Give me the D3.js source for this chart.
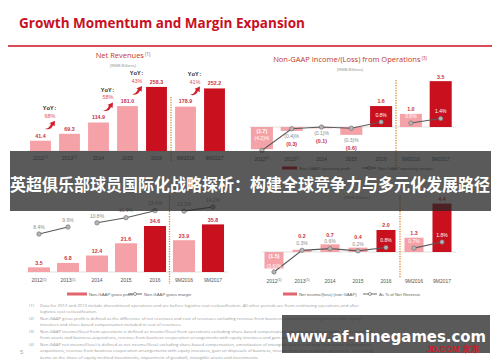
<!DOCTYPE html>
<html>
<head>
<meta charset="utf-8">
<title>Growth Momentum and Margin Expansion</title>
<script src="https://cdn.jsdelivr.net/npm/d3@7"></script>
<style>
  body { margin: 0; background: #fff; }
  svg { display: block; font-family: "Liberation Sans", Arial, sans-serif; }
  .ttl { font-family: "Open Sans", sans-serif; }
</style>
</head>
<body>
<div id="chart"></div>
<script>
// periods shared by the four panels
var periods = ["2012", "2013", "2014", "2015", "2016", "9M2016", "9M2017"];
var noted = ["2012", "2013"];          // footnote (1) on the axis
var highlight = ["2016", "9M2017"];    // dark red bars

var netRevenues = [41.4, 69.3, 114.9, 181.0, 258.3, 178.9, 252.2];
var yoyFrom = ["2012", "2014", "2015", "9M2016"];
var yoyPct = ["68%", "58%", "43%", "41%"];

var opIncome = [-1.7, -0.3, -0.1, -0.6, 1.6, 1.0, 3.5];
var opMargin = [-4.2, -0.4, -0.1, -0.3, 0.8, 0.6, 1.4];

var grossProfit = [3.5, 6.8, 12.4, 21.6, 34.6, 23.9, 35.8];
var grossMargin = [8.4, 9.9, 10.8, 11.9, 13.4, 13.3, 14.2];

var netIncome = [-1.5, 0.2, 0.7, 0.4, 2.0, 1.3, 4.4];
var netMargin = [-3.6, 0.3, 0.6, 0.2, 0.8, 0.7, 1.8];

var footnotes = [
  ["(1)", "Data for 2012 and 2013 include discontinued operations and are before logistics cost reclassification. All other periods are from continuing operations and after"],
  ["", "logistics cost reclassification."],
  ["(2)", "Non-GAAP gross profit is defined as the difference of net revenues and cost of revenues excluding revenue from business cooperation arrangements with equity"],
  ["", "investees and share-based compensation included in cost of revenues."],
  ["(3)", "Non-GAAP income/(loss) from operations is defined as income/(loss) from operations excluding share-based compensation, amortization of intangible assets resulting"],
  ["", "from assets and business acquisitions, revenue from business cooperation arrangements with equity investees and gain on disposals of business."],
  ["(4)", "Non-GAAP net income/(loss) is defined as net income/(loss) excluding share-based compensation, amortization of intangible assets resulting from assets and business"],
  ["", "acquisitions, revenue from business cooperation arrangements with equity investees, gain on disposals of business, income from non-compete agreement, reconciling"],
  ["", "items on the share of equity method investments, impairment of goodwill, intangible assets and investments."]
];

var W = 500, H = 362;
var pink = "#f4a2a8", dark = "#c8101f", valRed = "#c93340", txtGray = "#8c8c8c";

var svg = d3.select("#chart").append("svg").attr("width", W).attr("height", H);

function fmt(v) { var s = d3.format(".1f")(Math.abs(v)); return v < 0 ? "(" + s + ")" : s; }
function fmtPct(v) { var s = d3.format(".1f")(Math.abs(v)); return v < 0 ? "(" + s + ")%" : s + "%"; }

// slide header
svg.append("text").attr("class", "ttl").attr("x", 19).attr("y", 27.5)
  .attr("font-size", 13.5).attr("font-weight", "bold").attr("fill", dark)
  .text("Growth Momentum and Margin Expansion");
svg.append("line").attr("x1", 8).attr("x2", 492).attr("y1", 46).attr("y2", 46)
  .attr("stroke", dark).attr("stroke-width", 1.4);

function panel(o) {
  var g = svg.append("g");
  var x = d3.scaleBand().domain(periods).range(o.xr).paddingInner(o.pad).paddingOuter(o.pad / 2);
  var y = d3.scaleLinear().domain(o.yd).range(o.yr);
  var bw = x.bandwidth();
  var rows = periods.map(function (p, i) { return { p: p, v: o.values[i], m: o.margins ? o.margins[i] : null }; });

  // title (the bottom panels' titles sit behind the banner)
  if (o.title) {
    var t = g.append("text").attr("class", "ttl").attr("x", o.tx).attr("y", o.ty)
      .attr("text-anchor", "middle").attr("font-size", 7.5).attr("fill", "#c0392b").text(o.title);
    t.append("tspan").attr("dy", -2.5).attr("font-size", 4.5).text(" " + o.note);
  }
  if (o.sub) {
    g.append("text").attr("x", o.tx).attr("y", o.ty + 9).attr("text-anchor", "middle")
      .attr("font-size", 4.2).attr("fill", "#999").text("(RMB Billions)");
  }

  // zero line
  g.append("line").attr("x1", o.xr[0] + 2).attr("x2", o.xr[1]).attr("y1", y(0)).attr("y2", y(0))
    .attr("stroke", "#cfcfcf").attr("stroke-width", 0.6);

  // bars
  g.selectAll("rect.bar").data(rows).enter().append("rect").attr("class", "bar")
    .attr("x", function (d) { return x(d.p); }).attr("width", bw)
    .attr("y", function (d) { return y(Math.max(0, d.v)); })
    .attr("height", function (d) { return Math.abs(y(d.v) - y(0)); })
    .attr("fill", function (d) { return highlight.indexOf(d.p) >= 0 ? dark : pink; });

  // margin line and labels
  var ym = null;
  if (o.margins) {
    ym = d3.scaleLinear().domain(o.md).range(o.mr);
    rows.forEach(function (d) {
      var top = y(Math.max(0, d.v)), bot = y(Math.min(0, d.v));
      if (d.v < 0 && bot - top > 12) {
        d.vy = y(0) + 4.5; d.py = d.vy + o.inGap; d.vIn = true; d.pIn = true;
      } else if (d.v < 0) {
        d.py = bot + 5; d.vy = d.py + 8; d.vIn = false; d.pIn = false;
      } else {
        d.py = ym(d.m) - 7;
        d.vy = o.stack ? Math.min(top - 4.5, d.py - 7) : top - 4.5;
        d.pIn = d.py > top + 1; d.vIn = false;
      }
    });
    var line = d3.line().x(function (d) { return x(d.p) + bw / 2; }).y(function (d) { return ym(d.m); });
    o.segments.forEach(function (seg) {
      g.append("path").datum(rows.filter(function (d) { return seg.indexOf(d.p) >= 0; }))
        .attr("d", line).attr("fill", "none").attr("stroke", "#5a5a5a").attr("stroke-width", 1.1);
    });
    g.selectAll("circle.mk").data(rows).enter().append("circle").attr("class", "mk")
      .attr("cx", function (d) { return x(d.p) + bw / 2; }).attr("cy", function (d) { return ym(d.m); })
      .attr("r", 2.2).attr("fill", "#b5b5b5").attr("stroke", "#6a6a6a").attr("stroke-width", 0.6);
    g.selectAll("text.pct").data(rows).enter().append("text").attr("class", "pct")
      .attr("x", function (d) { return x(d.p) + bw / 2; }).attr("y", function (d) { return d.py; })
      .attr("dy", "0.35em").attr("text-anchor", "middle").attr("font-size", 5)
      .attr("fill", function (d) { return d.pIn ? "#fff" : txtGray; })
      .text(function (d) { return fmtPct(d.m); });
  } else {
    rows.forEach(function (d) { d.vy = y(d.v) - 5; d.vIn = false; });
  }

  g.selectAll("text.val").data(rows).enter().append("text").attr("class", "val")
    .attr("x", function (d) { return x(d.p) + bw / 2; }).attr("y", function (d) { return d.vy; })
    .attr("dy", "0.35em").attr("text-anchor", "middle").attr("font-size", 5.3).attr("font-weight", "bold")
    .attr("fill", function (d) { return d.vIn ? "#fff" : valRed; })
    .text(function (d) { return fmt(d.v); });

  // x axis
  var ax = g.append("g").attr("transform", "translate(0," + o.axisY + ")")
    .call(d3.axisBottom(x).tickSize(0).tickPadding(o.tickPad));
  ax.select(".domain").remove();
  ax.selectAll(".tick text").attr("font-size", 5).attr("fill", "#555").attr("font-family", "Liberation Sans, Arial, sans-serif");
  ax.selectAll(".tick text").filter(function (d) { return noted.indexOf(d) >= 0; })
    .append("tspan").attr("dy", "-0.45em").attr("font-size", 3.2).text("(1)");

  // divider between full years and nine months
  var dx = (x("2016") + bw + x("9M2016")) / 2;
  g.append("line").attr("x1", dx).attr("x2", dx).attr("y1", o.div[0]).attr("y2", o.div[1])
    .attr("stroke", "#e0862a").attr("stroke-width", 1.3).attr("stroke-dasharray", "1.2,1.3");

  // legend
  if (o.legend) {
    var L = o.legend;
    g.append("rect").attr("x", L.x).attr("y", L.y - 1.5).attr("width", L.sw).attr("height", 3).attr("fill", L.col);
    g.append("text").attr("x", L.x + L.sw + 2).attr("y", L.y).attr("dy", "0.35em")
      .attr("font-size", 4.3).attr("fill", "#666").text(L.a);
    g.append("line").attr("x1", L.lx).attr("x2", L.lx + 14).attr("y1", L.y).attr("y2", L.y)
      .attr("stroke", "#5a5a5a").attr("stroke-width", 0.9);
    g.append("circle").attr("cx", L.lx + 7).attr("cy", L.y).attr("r", 1.5)
      .attr("fill", "#fff").attr("stroke", "#5a5a5a").attr("stroke-width", 0.6);
    g.append("text").attr("x", L.lx + 16).attr("y", L.y).attr("dy", "0.35em")
      .attr("font-size", 4.3).attr("fill", "#666").text(L.b);
  }
  return { g: g, x: x, y: y, bw: bw };
}

// Net revenues
var p1 = panel({
  title: "Net Revenues", note: "(1)", sub: true, tx: 123, ty: 58,
  values: netRevenues, xr: [26, 229], pad: 0.28, yd: [0, 260], yr: [151, 86.5],
  axisY: 151, tickPad: 5, div: [97, 162]
});
yoyFrom.forEach(function (p, i) {
  var j = periods.indexOf(p);
  var cx = (p1.x(p) + p1.x(periods[j + 1]) + p1.bw) / 2 - 5;
  var cy = p1.y(netRevenues[j]) - 33;
  p1.g.append("text").attr("x", cx).attr("y", cy).attr("dy", "0.35em").attr("text-anchor", "middle")
    .attr("font-family", "Liberation Mono, monospace").attr("font-weight", "bold")
    .attr("font-size", 6).attr("fill", "#333").text("YoY:");
  p1.g.append("text").attr("x", cx).attr("y", cy + 8).attr("dy", "0.35em").attr("text-anchor", "middle")
    .attr("font-size", 5.5).attr("fill", "#e0505c").text(yoyPct[i]);
  p1.g.append("path").attr("transform", "translate(" + (cx - 5) + "," + (cy + 13) + ")")
    .attr("d", "M0,8 C3,8 5,6 6,3 L4.2,2.4 L10,0 L9.6,5.6 L8,4.4 C7,7.4 4,9.6 0,8 Z")
    .attr("fill", "#d11f2c");
});

// Non-GAAP income from operations
panel({
  title: "Non-GAAP Income/(Loss) from Operations", note: "(3)", sub: true, tx: 350, ty: 62,
  values: opIncome, margins: opMargin, xr: [247, 455.6], pad: 0.26,
  yd: [-2, 4], yr: [153.2, 74.6], md: [-5, 2], mr: [155, 115.1],
  segments: [["2012", "2013", "2014", "2015", "2016"], ["9M2016", "9M2017"]],
  inGap: 7, stack: false, axisY: 152, tickPad: 5, div: [80, 166],
  legend: { x: 282, y: 168, sw: 15, col: dark, lx: 362, a: "Non-GAAP operating profit", b: "Non-GAAP operating margin" }
});

// Non-GAAP gross profit
panel({
  tx: 125, ty: 183,
  values: grossProfit, margins: grossMargin, xr: [24.5, 227.5], pad: 0.24,
  yd: [0, 40], yr: [272, 218.8], md: [8, 15], mr: [235.9, 203.2],
  segments: [["2012", "2013"], ["2014", "2015", "2016"], ["9M2016", "9M2017"]],
  inGap: 8, stack: false, axisY: 272, tickPad: 6.5, div: [196, 284],
  legend: { x: 67, y: 294, sw: 20, col: "#e2646e", lx: 128, a: "Non-GAAP gross profit", b: "Non-GAAP gross margin" }
});

// Non-GAAP net income
panel({
  sub: true, tx: 357, ty: 190,
  values: netIncome, margins: netMargin, xr: [260, 456], pad: 0.32,
  yd: [-2, 5], yr: [274, 197], md: [-4, 2], mr: [274.2, 240.9],
  segments: [["2012", "2013", "2014", "2015", "2016"], ["9M2016", "9M2017"]],
  inGap: 10, stack: true, axisY: 274, tickPad: 5, div: [196, 278],
  legend: { x: 283, y: 294, sw: 14, col: "#e2646e", lx: 363, a: "Net income/(loss) (non GAAP)", b: "As % of Net Revenue" }
});

// footnotes
var fn = svg.append("g").attr("font-family", "Open Sans, sans-serif").attr("font-size", 4.3).attr("fill", "#9a9a9a");
var fy = d3.scalePoint().domain(d3.range(footnotes.length)).range([305, 357]);
footnotes.forEach(function (f, i) {
  fn.append("text").attr("x", 29).attr("y", fy(i)).attr("dy", "0.35em").text(f[0]);
  fn.append("text").attr("x", 40).attr("y", fy(i)).attr("dy", "0.35em").text(f[1]);
});
svg.append("text").attr("x", 20).attr("y", 354).attr("font-size", 6).attr("fill", "#aaa").text("5");

// dark banner with headline
svg.append("rect").attr("x", 10).attr("y", 151).attr("width", 481).attr("height", 60)
  .attr("fill", "rgba(38,38,38,0.76)");
svg.append("text").attr("x", 250).attr("y", 185).attr("dy", "0.36em").attr("text-anchor", "middle")
  .attr("font-family", "Noto Sans CJK SC, sans-serif").attr("font-weight", "bold")
  .attr("font-size", 16.5).attr("fill", "#fff")
  .attr("textLength", 480).attr("lengthAdjust", "spacingAndGlyphs")
  .text("英超俱乐部球员国际化战略探析：构建全球竞争力与多元化发展路径");

// watermark
svg.append("rect").attr("x", 282).attr("y", 315).attr("width", 208).attr("height", 38)
  .attr("fill", "rgba(38,38,38,0.76)");
svg.append("text").attr("x", 386).attr("y", 337).attr("dy", "0.35em").attr("text-anchor", "middle")
  .attr("font-family", "DejaVu Sans, sans-serif").attr("font-weight", "bold")
  .attr("font-size", 15).attr("fill", "#fff")
  .attr("textLength", 200).attr("lengthAdjust", "spacingAndGlyphs")
  .text("www.af-ninegames.com");
svg.append("text").attr("x", 480).attr("y", 352).attr("text-anchor", "end")
  .attr("font-family", "Liberation Sans, sans-serif").attr("font-weight", "bold")
  .attr("font-size", 8.5).attr("fill", "#c8202a").text("JD.COM 京东");
</script>
</body>
</html>
